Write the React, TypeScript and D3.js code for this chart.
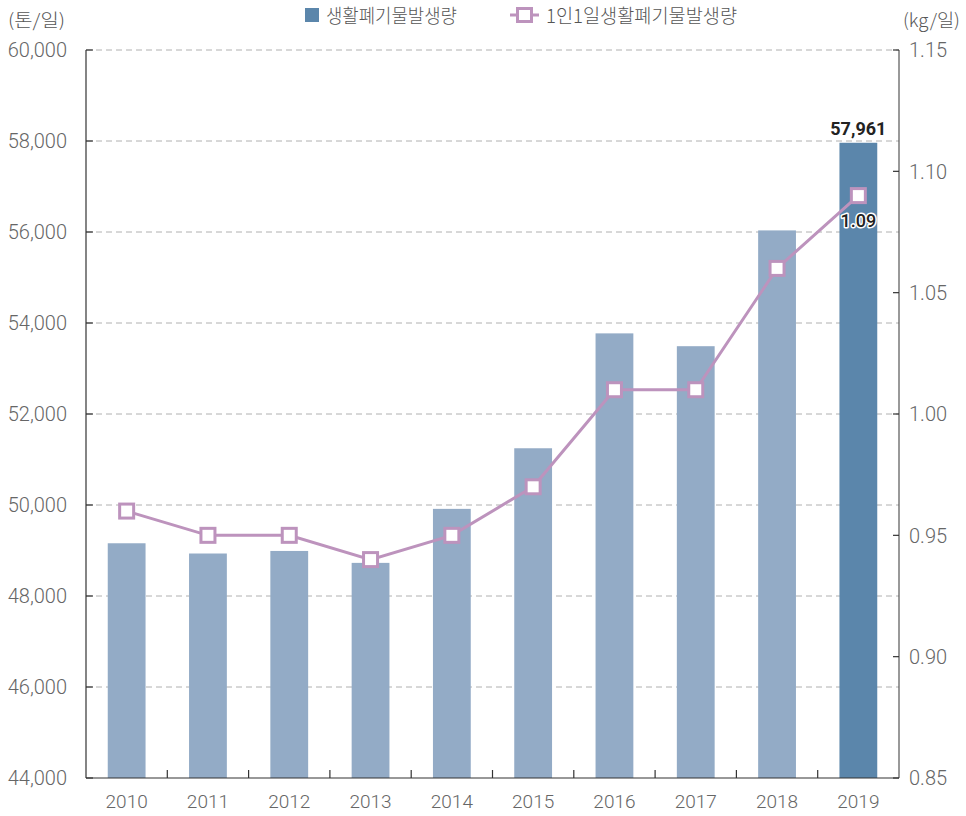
import React from "react";
import * as d3 from "d3";

const years = ["2010", "2011", "2012", "2013", "2014", "2015", "2016", "2017", "2018", "2019"];
const wasteTons = [49159, 48934, 48990, 48728, 49915, 51247, 53772, 53490, 56035, 57961];
const perCapita = [0.96, 0.95, 0.95, 0.94, 0.95, 0.97, 1.01, 1.01, 1.06, 1.09];
const leftTicks = [44000, 46000, 48000, 50000, 52000, 54000, 56000, 58000, 60000];
const rightTicks = [0.85, 0.9, 0.95, 1.0, 1.05, 1.1, 1.15];
const legendLabels = ["생활폐기물발생량", "1인1일생활폐기물발생량"];
const unitLeft = "(톤/일)";
const unitRight = "(kg/일)";

const W = 966, H = 816;
const M = { left: 86, right: 899, top: 50, bottom: 778 };
const NUM = "Roboto, 'Noto Sans', sans-serif";
const KR = "'Noto Sans CJK KR', 'Noto Sans', sans-serif";
const BAR = "#93abc6";
const BAR_LAST = "#5b86ab";
const LINE = "#bd93bd";

export default function App() {
  const x = d3.scaleBand<string>().domain(years).range([M.left, M.right]).paddingInner(0.535).paddingOuter(0.2675);
  const xb = d3.scaleBand<string>().domain(years).range([M.left, M.right]);
  const yL = d3.scaleLinear().domain([44000, 60000]).range([M.bottom, M.top]);
  const yR = d3.scaleLinear().domain([0.85, 1.15]).range([M.bottom, M.top]);
  const line = d3.line<number>().x((_, i) => (xb(years[i]) as number) + xb.bandwidth() / 2).y((d) => yR(d));
  const fmt = d3.format(",");
  const last = years.length - 1;
  const cx = (i: number) => (xb(years[i]) as number) + xb.bandwidth() / 2;

  return (
    <div style={{ position: "absolute", left: 0, top: 0 }}>
      <svg width={W} height={H} style={{ display: "block", background: "#fff" }}>
        {/* gridlines */}
        {leftTicks.filter((t) => t !== 44000).map((t) => (
          <line key={t} x1={M.left} x2={M.right} y1={yL(t)} y2={yL(t)} stroke="#b0b0b0" strokeWidth={1} strokeDasharray="6,4" />
        ))}
        {/* bars */}
        {wasteTons.map((v, i) => (
          <rect key={years[i]} x={x(years[i])} y={yL(v)} width={x.bandwidth()} height={M.bottom - yL(v)} fill={i === last ? BAR_LAST : BAR} />
        ))}
        {/* axes */}
        <line x1={M.left} x2={M.left} y1={M.top} y2={M.bottom} stroke="#333" strokeWidth={1.2} />
        <line x1={M.right} x2={M.right} y1={M.top} y2={M.bottom} stroke="#555" strokeWidth={1.2} />
        <line x1={M.left} x2={M.right} y1={M.bottom} y2={M.bottom} stroke="#333" strokeWidth={1.2} />
        {leftTicks.map((t) => (
          <g key={"l" + t}>
            <line x1={M.left} x2={M.left + 7} y1={yL(t)} y2={yL(t)} stroke="#333" strokeWidth={1.2} />
            <text x={67} y={yL(t)} dy="0.36em" textAnchor="end" fontFamily={NUM} fontWeight={300} fontSize={20} fill="#666">{fmt(t)}</text>
          </g>
        ))}
        {rightTicks.map((t) => (
          <g key={"r" + t}>
            <line x1={M.right - 6} x2={M.right} y1={yR(t)} y2={yR(t)} stroke="#333" strokeWidth={1.2} />
            <text x={909} y={yR(t)} dy="0.36em" textAnchor="start" fontFamily={NUM} fontWeight={300} fontSize={20} fill="#666">{t.toFixed(2)}</text>
          </g>
        ))}
        {years.slice(1).map((yr) => (
          <line key={"xt" + yr} x1={xb(yr)} x2={xb(yr)} y1={M.bottom - 8} y2={M.bottom} stroke="#333" strokeWidth={1.2} />
        ))}
        {years.map((yr, i) => (
          <text key={"xl" + yr} x={cx(i)} y={801} dy="0.36em" textAnchor="middle" fontFamily={NUM} fontWeight={300} fontSize={19} fill="#666">{yr}</text>
        ))}
        {/* units */}
        <text x={8} y={21} dy="0.36em" fontFamily={KR} fontWeight={300} fontSize={18} fill="#555" textLength={57} lengthAdjust="spacingAndGlyphs">{unitLeft}</text>
        <text x={903} y={21} dy="0.36em" fontFamily={KR} fontWeight={300} fontSize={18} fill="#555" textLength={57} lengthAdjust="spacingAndGlyphs">{unitRight}</text>
        {/* line */}
        <path d={line(perCapita) as string} fill="none" stroke={LINE} strokeWidth={3} />
        {perCapita.map((v, i) => (
          <rect key={"m" + i} x={cx(i) - 7} y={yR(v) - 7} width={14} height={14} fill="#fff" stroke={LINE} strokeWidth={3} />
        ))}
        {/* value labels */}
        <text x={cx(last)} y={129} dy="0.36em" textAnchor="middle" fontFamily={NUM} fontWeight={700} fontSize={18} fill="#222">{fmt(wasteTons[last])}</text>
        <text x={cx(last)} y={221} dy="0.36em" textAnchor="middle" fontFamily={NUM} fontWeight={500} fontSize={18} fill="#222" stroke="#fff" strokeWidth={3} paintOrder="stroke" strokeLinejoin="round">{perCapita[last].toFixed(2)}</text>
        {/* legend */}
        <rect x={305} y={8} width={14} height={14} fill={BAR_LAST} />
        <text x={326} y={16} dy="0.36em" fontFamily={KR} fontWeight={300} fontSize={19} fill="#555" textLength={131} lengthAdjust="spacingAndGlyphs">{legendLabels[0]}</text>
        <line x1={510} x2={539} y1={15} y2={15} stroke={LINE} strokeWidth={3} />
        <rect x={517.5} y={8.5} width={14} height={13} fill="#fff" stroke={LINE} strokeWidth={3} />
        <text x={546} y={16} dy="0.36em" fontFamily={KR} fontWeight={300} fontSize={19} fill="#555" textLength={191} lengthAdjust="spacingAndGlyphs">{legendLabels[1]}</text>
      </svg>
    </div>
  );
}
